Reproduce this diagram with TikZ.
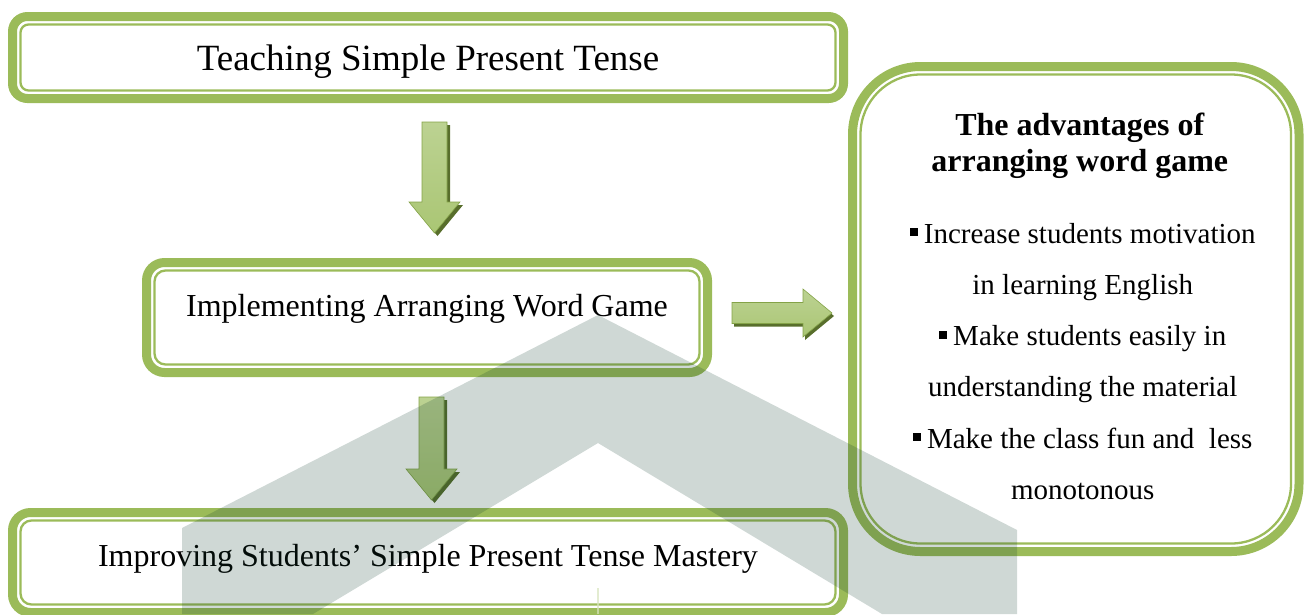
\documentclass[tikz,border=0pt]{standalone}
\usepackage{fontspec}
\setmainfont{Liberation Serif}
\usepackage{tikz}
\usetikzlibrary{calc}
\definecolor{boxgreen}{RGB}{155,187,89}
\definecolor{arlight}{RGB}{188,210,146}
\definecolor{armid}{RGB}{150,183,84}
\definecolor{arlow}{RGB}{170,198,116}
\definecolor{aredge}{RGB}{132,163,72}
\definecolor{arshadow}{RGB}{88,110,44}
\definecolor{wmark}{RGB}{15,60,45}
\newcommand{\downblock}[2]{%
  \begin{scope}[transform canvas={xshift=3pt,yshift=-3pt}]
  \fill[arshadow] let \p1=#1,\p2=#2 in
    (\x1-12.5pt,\y1) -- (\x1+12.5pt,\y1) -- (\x1+12.5pt,\y2+31pt) -- (\x1+25.5pt,\y2+31pt)
    -- (\x1,\y2) -- (\x1-25.5pt,\y2+31pt) -- (\x1-12.5pt,\y2+31pt) -- cycle;
  \end{scope}
  \shade[top color=arlight,middle color=armid,bottom color=arlow,draw=aredge,line width=.6pt] let \p1=#1,\p2=#2 in
    (\x1-12.5pt,\y1) -- (\x1+12.5pt,\y1) -- (\x1+12.5pt,\y2+31pt) -- (\x1+25.5pt,\y2+31pt)
    -- (\x1,\y2) -- (\x1-25.5pt,\y2+31pt) -- (\x1-12.5pt,\y2+31pt) -- cycle;
}
\newcommand{\rightblock}[2]{%
  \begin{scope}[transform canvas={xshift=2pt,yshift=-3pt}]
  \fill[arshadow] let \p1=#1,\p2=#2 in
    (\x1,\y1+10.5pt) -- (\x2-29pt,\y1+10.5pt) -- (\x2-29pt,\y1+24pt) -- (\x2,\y1)
    -- (\x2-29pt,\y1-24pt) -- (\x2-29pt,\y1-10.5pt) -- (\x1,\y1-10.5pt) -- cycle;
  \end{scope}
  \shade[top color=arlight,middle color=armid,bottom color=arlow,draw=aredge,line width=.6pt] let \p1=#1,\p2=#2 in
    (\x1,\y1+10.5pt) -- (\x2-29pt,\y1+10.5pt) -- (\x2-29pt,\y1+24pt) -- (\x2,\y1)
    -- (\x2-29pt,\y1-24pt) -- (\x2-29pt,\y1-10.5pt) -- (\x1,\y1-10.5pt) -- cycle;
}
\newcommand{\innerline}[2]{%
  \draw[thinline,rounded corners=#2] ([shift={(8,8)}]#1.north west) rectangle ([shift={(-8,-8)}]#1.south east);
}
\newcommand{\sqbullet}{\raisebox{7pt}{\rule{8pt}{8pt}}\hspace{6pt}}

\begin{document}
\begin{tikzpicture}[x=1pt,y=-1pt,
    greenbox/.style={draw=boxgreen,line width=9pt,outer sep=0pt,inner sep=0pt},
    thinline/.style={draw=boxgreen,line width=2.3pt},
    boxtext/.style={anchor=base,inner sep=0pt,font=\fontsize{32}{38}\selectfont}]
    \useasboundingbox (0,0) rectangle (1305,614);
    \clip (0,0) rectangle (1305,614);
    \node[greenbox,rounded corners=15pt,minimum width=831pt,minimum height=82pt] (teach) at (428,57.5) {};
    \node[greenbox,rounded corners=18pt,minimum width=561pt,minimum height=110pt] (impl) at (427,317.5) {};
    \node[greenbox,rounded corners=18pt,minimum width=831pt,minimum height=100pt] (improve) at (428,562.5) {};
    \node[greenbox,rounded corners=68pt,minimum width=446.5pt,minimum height=485pt] (adv) at (1075.75,309) {};
    \innerline{teach}{8pt}
    \innerline{impl}{11pt}
    \innerline{improve}{11pt}
    \innerline{adv}{60pt}
    \node[boxtext,font=\fontsize{37}{44}\selectfont] (teachText) at ([yshift=-12.5pt]teach.center) {Teaching Simple Present Tense};
    \node[boxtext] (implText) at ([yshift=1.5pt]impl.center) {Implementing Arranging Word Game};
    \node[boxtext] (improveText) at ([yshift=-3.5pt]improve.center) {Improving Students’ Simple Present Tense Mastery};
    \node[anchor=north,align=center,inner sep=0pt,font=\fontsize{32}{36}\selectfont\bfseries] (advTitle)
      at ([shift={(4,46.5)}]adv.north) {The advantages of\\arranging word game};
    \node[anchor=north,align=center,inner sep=0pt,font=\fontsize{29}{51.2}\selectfont] (advList)
      at ([shift={(7,156.5)}]adv.north) {\sqbullet Increase students motivation\\in learning English\\
      \sqbullet Make students easily in\\understanding the material\\\sqbullet Make the class fun and~ less\\monotonous};
    \coordinate (d1s) at ([shift={(6.5,23.5)}]teach.south);
    \coordinate (d1t) at ([shift={(7.5,-29.5)}]impl.north);
    \coordinate (d2s) at ([shift={(4.5,24.5)}]impl.south);
    \coordinate (d2t) at ([shift={(3.5,-12.5)}]improve.north);
    \foreach \s/\t in {d1s/d1t,d2s/d2t}{
      \downblock{(\s)}{(\t)}
    }
    \coordinate (r1s) at ([shift={(24.5,-4.5)}]impl.east);
    \coordinate (r1t) at ([shift={(-20.5,-5)}]adv.west);
    \rightblock{(r1s)}{(r1t)}
    \fill[wmark,opacity=.2] (182,614) -- (182,528) -- (598,315) -- (1017,530) -- (1017,614)
      -- (882,614) -- (598,443) -- (313,614) -- cycle;
    \draw[boxgreen!40,line width=1.5pt,opacity=.7] (598,588) -- (598,614);
\end{tikzpicture}
\end{document}
